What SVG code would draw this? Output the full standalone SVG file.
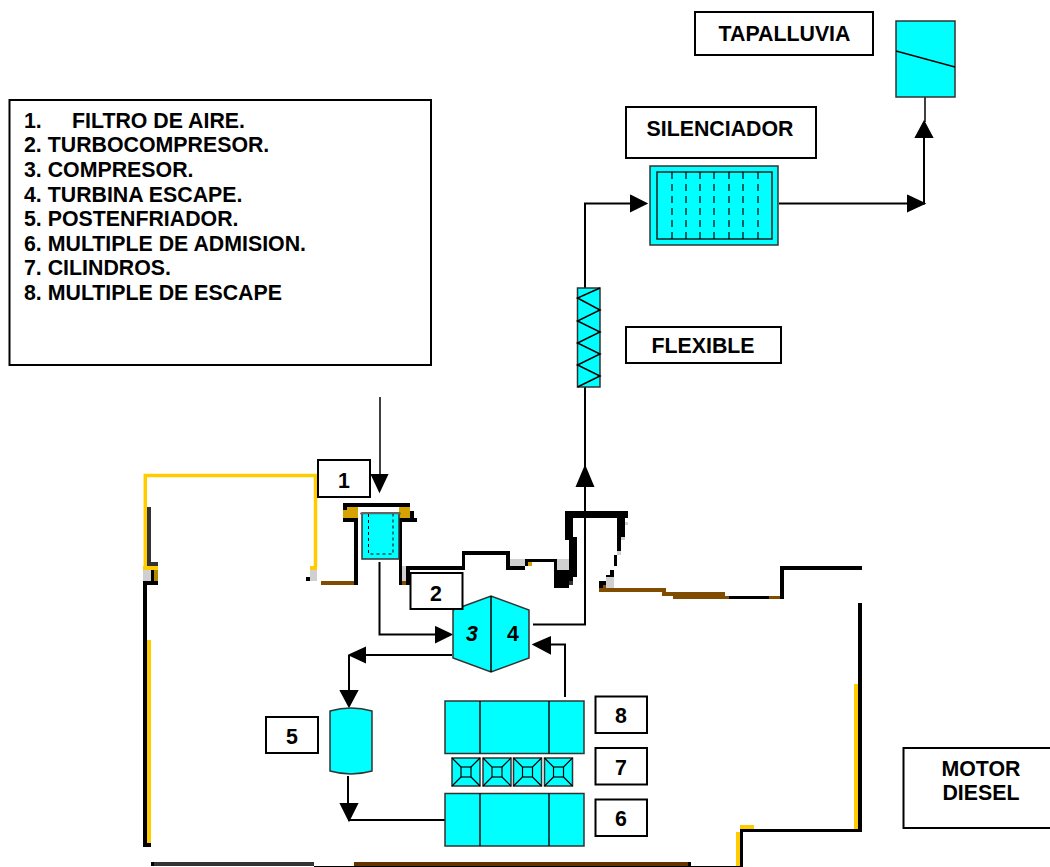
<svg xmlns="http://www.w3.org/2000/svg" width="1050" height="867" viewBox="0 0 1050 867">
<style>
text{font-family:"Liberation Sans",Arial,sans-serif;font-weight:700;font-size:21.33px;fill:#000}
.m{text-anchor:middle}
.it{font-style:italic}
.box{fill:#fff;stroke:#000;stroke-width:2}
.cy{fill:#0ff;stroke:#333;stroke-width:1.5}
.ln{fill:none;stroke:#000;stroke-width:2}
.thin{fill:none;stroke:#000;stroke-width:1.5}
.k{fill:#000}.y{fill:#fc0}.g{fill:#d0d0d0}.b{fill:#804d00}.o{fill:#d6a300}.d{fill:#333}.bd{fill:#630}
#pipes rect{shape-rendering:crispEdges}
</style>
<defs>
<g id="cyl"><rect class="cy" x="0" y="0" width="28" height="28"/><rect x="9" y="9" width="10" height="10" fill="none" stroke="#000" stroke-width="1.2"/><path d="M0,0L9,9M28,0L19,9M0,28L9,19M28,28L19,19" fill="none" stroke="#000" stroke-width="1.2"/></g>
<g id="block"><rect class="cy" x="0" y="0" width="139" height="52.500"/><path d="M35,0V52.500M104,0V52.500" fill="none" stroke="#111" stroke-width="1.5"/></g>
</defs>
<g id="pipes">
<path d="M315.500,477V567M145.300,567V475.500H317" fill="none" stroke="#fc0" stroke-width="3.500"/>
<rect class="d" x="147" y="507" width="4" height="55"/><rect class="d" x="147" y="562" width="11" height="4"/>
<rect class="y" x="143" y="566" width="15" height="4"/><rect class="g" x="143" y="570" width="8" height="11"/><rect class="k" x="151" y="570" width="3" height="11"/><rect x="154" y="570" width="4" height="11" fill="#b38600"/>
<rect class="k" x="143" y="581" width="15" height="4"/><rect class="k" x="143" y="585" width="4" height="262"/><rect class="y" x="147" y="640" width="4" height="203"/><rect class="k" x="147" y="843" width="4" height="4"/>
<rect class="y" x="310" y="566" width="7" height="4"/><rect class="g" x="310" y="570" width="7" height="11"/><rect class="k" x="306" y="577" width="4" height="4"/>
<rect class="b" x="321" y="581" width="33" height="4"/>
<rect class="k" x="343" y="503" width="67" height="4"/><rect class="k" x="343" y="507" width="4" height="3"/><rect class="o" x="343" y="510" width="4" height="8"/><rect class="o" x="347" y="507" width="11" height="11"/><rect class="k" x="343" y="518" width="15" height="4"/><rect class="k" x="354" y="522" width="4" height="63"/>
<rect class="o" x="399" y="507" width="11" height="11"/><rect class="k" x="410" y="511" width="4" height="7"/><rect class="k" x="399" y="518" width="18" height="4"/><rect class="k" x="399" y="522" width="3" height="63"/>
<rect class="g" x="402" y="566" width="4" height="15"/><rect class="b" x="402" y="581" width="4" height="4"/><rect class="k" x="406" y="566" width="4" height="19"/>
<rect class="k" x="406" y="566" width="59" height="4"/><rect class="k" x="462" y="551" width="3" height="19"/><rect class="k" x="462" y="551" width="48" height="4"/><rect class="k" x="506" y="551" width="4" height="19"/><rect class="k" x="506" y="566" width="19" height="4"/><rect class="g" x="510" y="559" width="15" height="7"/><rect class="k" x="525" y="559" width="32" height="3"/><rect class="k" x="525" y="559" width="3" height="7"/><rect class="o" x="528" y="562" width="4" height="4"/><rect class="k" x="554" y="559" width="3" height="11"/><rect class="g" x="557" y="559" width="12" height="11"/><rect class="k" x="554" y="570" width="15" height="18"/><rect class="k" x="565" y="570" width="12" height="7"/><rect class="k" x="569" y="537" width="8" height="40"/><rect class="d" x="569" y="581" width="4" height="4"/><rect class="k" x="569" y="577" width="4" height="4"/>
<rect class="k" x="565" y="511" width="63" height="7"/><rect class="k" x="565" y="518" width="8" height="22"/>
<rect class="k" x="617" y="518" width="8" height="19"/><rect class="g" x="625" y="522" width="3" height="3"/><rect class="g" x="621" y="537" width="4" height="3"/><rect class="k" x="617" y="537" width="4" height="14"/><rect class="g" x="617" y="551" width="4" height="4"/><rect class="k" x="614" y="555" width="3" height="11"/><rect class="k" x="610" y="570" width="4" height="7"/><rect class="k" x="606" y="575" width="4" height="6"/><rect class="g" x="606" y="577" width="8" height="11"/><rect class="k" x="599" y="581" width="7" height="7"/><rect class="b" x="603" y="585" width="3" height="3"/>
<rect class="b" x="599" y="588" width="67" height="4"/><rect class="b" x="662" y="592" width="63" height="4"/><rect class="b" x="673" y="596" width="56" height="3"/><rect class="k" x="729" y="596" width="40" height="3"/><rect class="b" x="769" y="596" width="11" height="3"/><rect class="k" x="780" y="566" width="4" height="33"/><rect class="k" x="780" y="566" width="82" height="4"/>
<rect class="k" x="858" y="603" width="4" height="229"/><rect class="y" x="854" y="684" width="4" height="145"/><rect class="k" x="740" y="829" width="122" height="3"/><rect class="y" x="740" y="825" width="14" height="4"/><rect class="k" x="740" y="829" width="3" height="38"/><rect class="y" x="736" y="832" width="4" height="34"/>
<rect class="k" x="151" y="862" width="3" height="4"/><rect class="d" x="154" y="862" width="160" height="4"/><rect class="k" x="314" y="866" width="429" height="1"/><rect class="bd" x="354" y="862" width="334" height="4"/><rect class="k" x="688" y="862" width="3" height="4"/>
</g>
<g id="connectors" class="ln">
<path class="thin" d="M380,397V476"/><path class="k" d="M372,475H387L379.500,491Z"/>
<path class="ln" d="M379.500,562V634.500H437"/><path class="k" d="M436,627.500L451,634.500L436,642Z"/>
<path class="ln" d="M452,655H350M349,655V692"/><path class="k" d="M350,655L365,648V662Z"/><path class="k" d="M341,691H357L349,706Z"/>
<path class="ln" d="M348,776V805M348,820H445"/><path class="k" d="M341,804H357L349,820Z"/>
<path class="ln" d="M565,697V644.500H549"/><path class="k" d="M534,644.500L550,637.500V653Z"/>
<path class="ln" d="M533,624.500H585V468"/><path class="k" d="M585,467L593,486H577Z"/>
<path class="ln" d="M585,387V468M585,288V203.500H632"/><path class="k" d="M631,196L646,203.500L631,211Z"/>
<path class="ln" d="M779,203.500H924V137"/><path class="k" d="M908,196L924,203.500L908,211Z"/><path class="k" d="M924,122L932,137H916Z"/>
<path class="thin" d="M925,97V122" stroke="#555"/>
</g>
<g id="legend"><rect class="box" x="9.500" y="100" width="421.500" height="265"/>
<text x="24" y="127.700">1.</text><text x="72" y="127.700">FILTRO DE AIRE.</text>
<text x="24" y="152.300">2. TURBOCOMPRESOR.</text><text x="24" y="176.900">3. COMPRESOR.</text><text x="24" y="201.500">4. TURBINA ESCAPE.</text><text x="24" y="226.100">5. POSTENFRIADOR.</text><text x="24" y="250.700">6. MULTIPLE DE ADMISION.</text><text x="24" y="275.300">7. CILINDROS.</text><text x="24" y="300">8. MULTIPLE DE ESCAPE</text></g>
<g id="tapalluvia-label"><rect class="box" x="695" y="12" width="178" height="43"/><text class="m" x="784.500" y="40.500">TAPALLUVIA</text></g>
<g id="tapalluvia"><rect class="cy" x="896" y="21" width="59" height="76"/><path d="M896,51L955,67" class="thin"/></g>
<g id="silenciador-label"><rect class="box" x="626" y="107" width="190" height="51"/><text class="m" x="720" y="135.500">SILENCIADOR</text></g>
<g id="silenciador"><rect class="cy" x="650" y="166" width="128" height="79"/><rect x="657" y="172" width="115" height="67" fill="none" stroke="#222" stroke-width="1.500"/><path d="M672,172V239M686,172V239M700,172V239M714,172V239M729,172V239M743,172V239M758,172V239" fill="none" stroke="#000" stroke-width="1.200" stroke-dasharray="7 5"/></g>
<g id="flexible"><rect class="cy" x="577.500" y="288" width="22.500" height="99"/><path d="M600,288L577.500,298L600,310L577.500,321L600,332L577.500,343L600,354L577.500,365L600,376L577.500,387" class="thin"/></g>
<g id="flexible-label"><rect class="box" x="626" y="327" width="155" height="36"/><text class="m" x="703" y="353">FLEXIBLE</text></g>
<g id="filtro"><rect class="cy" x="362" y="513" width="37" height="46"/><path d="M360,513.500H401" stroke="#666" stroke-width="1.500"/><path d="M368.500,514V554H393V514" fill="none" stroke="#000" stroke-width="1" stroke-dasharray="3 3"/></g>
<g id="n1"><rect class="box" x="318" y="460" width="52" height="37"/><text class="m" x="344" y="488">1</text></g>
<g id="turbo"><path class="cy" d="M453,610L491,596L529,610V658L491,672L453,658Z"/><path d="M491,596V672" class="thin"/><text class="m it" x="472" y="640.500">3</text><text class="m" x="513" y="640.500">4</text></g>
<g id="n2"><rect class="box" x="410.500" y="573" width="52" height="36"/><text class="m" x="436" y="600.500">2</text></g>
<g id="postenfriador"><path class="cy" d="M330,711Q351,705 372,711V771Q351,777 330,771Z"/></g>
<g id="n5"><rect class="box" x="266" y="717" width="52" height="36"/><text class="m" x="292" y="744">5</text></g>
<g id="multiple-escape"><use href="#block" x="445" y="701"/></g>
<g id="cilindros"><use href="#cyl" x="452" y="758"/><use href="#cyl" x="483" y="758"/><use href="#cyl" x="513.500" y="758"/><use href="#cyl" x="544.500" y="758"/></g>
<g id="multiple-admision"><use href="#block" x="445" y="793.500"/></g>
<g id="n8"><rect class="box" x="595.500" y="696.500" width="51.500" height="36.500"/><text class="m" x="621" y="723">8</text></g>
<g id="n7"><rect class="box" x="595.500" y="748" width="51.500" height="36.500"/><text class="m" x="621" y="775">7</text></g>
<g id="n6"><rect class="box" x="595.500" y="799.500" width="51.500" height="36.500"/><text class="m" x="621" y="826">6</text></g>
<g id="motor"><rect class="box" x="903.500" y="748" width="160" height="80"/><text class="m" x="981" y="775.500">MOTOR</text><text class="m" x="981" y="800">DIESEL</text></g>
</svg>
